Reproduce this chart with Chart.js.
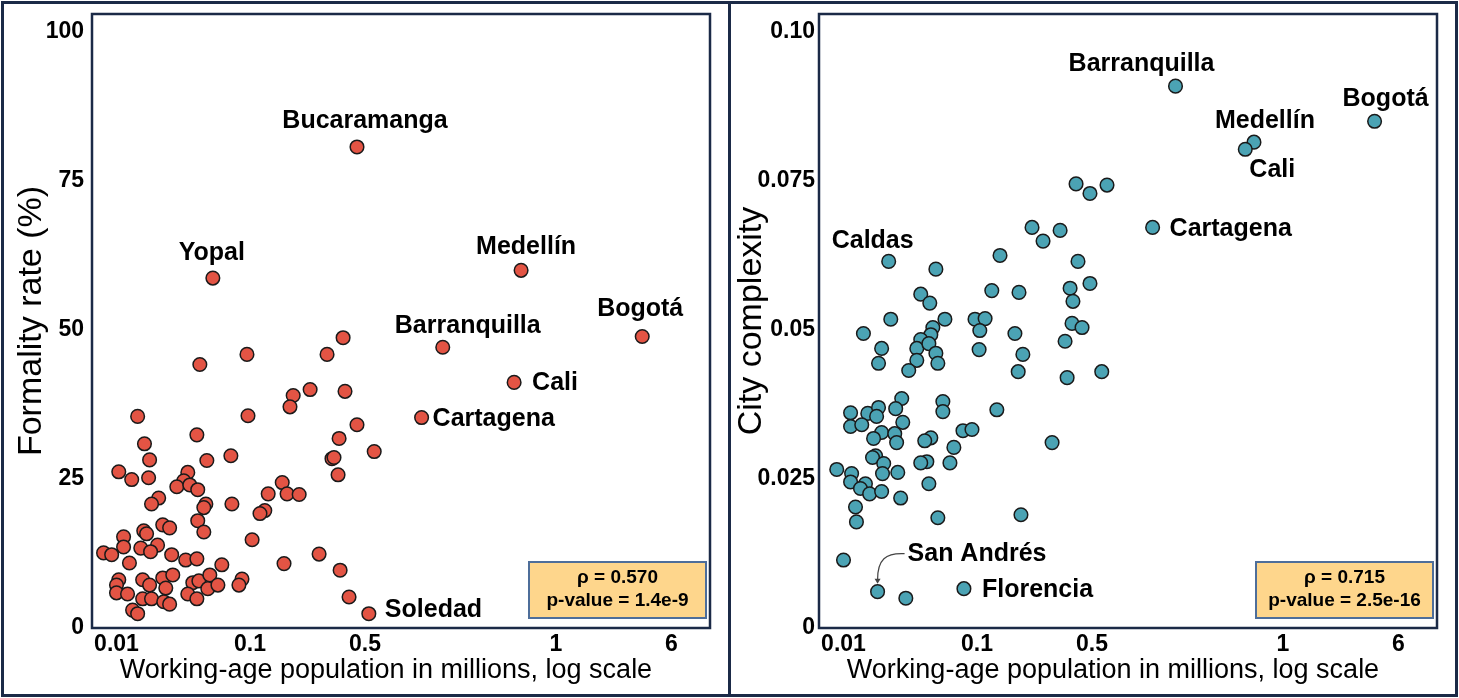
<!DOCTYPE html>
<html>
<head>
<meta charset="utf-8">
<script src="https://cdn.jsdelivr.net/npm/chart.js@4.4.1/dist/chart.umd.min.js"></script>
<style>
  body { margin: 0; background: #fff; }
  .panel { position: absolute; top: 1px; height: 696px; width: 730px; border: 3px solid #1b2a47; box-sizing: border-box; }
  #p1 { left: 1px; }
  #p2 { left: 728px; }
  canvas { display: block; }
</style>
</head>
<body>
<div class="panel" id="p1"><canvas id="c1" width="724" height="690"></canvas></div>
<div class="panel" id="p2"><canvas id="c2" width="724" height="690"></canvas></div>
<script>
// x axis: working-age population (millions), the tick labels are not evenly spaced
const xTickValues = [0.01, 0.1, 0.5, 1, 6];
const xTickLabels = ['0.01', '0.1', '0.5', '1', '6'];

// left panel: formality rate (%), labelled cities first
const formalityNames = ['Bucaramanga', 'Yopal', 'Medellín', 'Bogotá', 'Barranquilla', 'Cali', 'Cartagena', 'Soledad'];
const formalityPop = [
  0.447, 0.0527, 0.881, 3.81, 0.663, 0.859, 0.614, 0.507,
  0.368, 0.294, 0.0949, 0.0421, 0.232, 0.378, 0.183, 0.175, 0.0144, 0.0966,
  0.447, 0.0400, 0.348, 0.0162, 0.517, 0.0177, 0.0475, 0.315, 0.324, 0.0719,
  0.0104, 0.0130, 0.0174, 0.0342, 0.0319, 0.0283, 0.0354, 0.0406, 0.343, 0.157,
  0.129, 0.168, 0.199, 0.0207, 0.0183, 0.0467, 0.0451, 0.0732, 0.123, 0.115,
  0.0406, 0.0451, 0.0222, 0.0250, 0.0113, 0.0160, 0.0168, 0.0203, 0.0113, 0.0152,
  0.0180, 0.0080, 0.0092, 0.0125, 0.0259, 0.0330, 0.0400, 0.0615, 0.103, 0.161,
  0.263, 0.353, 0.400, 0.0104, 0.0100, 0.0100, 0.0121, 0.0157, 0.0177, 0.0222,
  0.0264, 0.0234, 0.0157, 0.0183, 0.0226, 0.0250, 0.0132, 0.0144, 0.0373, 0.0414,
  0.0500, 0.0483, 0.0575, 0.0342, 0.0400, 0.0871, 0.0826
];
const formalityRate = [
  80.7, 58.7, 60.0, 48.9, 47.1, 41.2, 35.3, 2.4,
  48.7, 45.9, 45.9, 44.2, 40.0, 39.7, 39.0, 37.1, 35.5, 35.6,
  34.1, 32.4, 31.8, 30.9, 29.6, 28.2, 28.1, 28.4, 28.6, 28.9,
  26.2, 24.9, 25.2, 26.1, 24.7, 23.7, 24.0, 23.2, 25.7, 24.4,
  22.5, 22.5, 22.4, 21.8, 20.8, 20.8, 20.2, 20.8, 19.7, 19.2,
  18.0, 16.1, 17.3, 16.8, 15.3, 16.3, 15.8, 13.9, 13.6, 13.4,
  12.8, 12.6, 12.3, 10.9, 12.3, 11.4, 11.6, 10.6, 14.8, 10.8,
  12.4, 9.7, 5.2, 8.1, 7.2, 5.9, 5.7, 8.1, 7.2, 8.4,
  8.9, 6.7, 4.9, 4.9, 4.4, 4.0, 3.0, 2.4, 7.6, 7.9,
  8.9, 6.6, 7.2, 5.7, 4.9, 8.2, 7.2
];
const formalityYTicks = [0, 25, 50, 75, 100];
const formalityYLabels = ['0', '25', '50', '75', '100'];
const formalityStats = ['ρ = 0.570', 'p-value = 1.4e-9'];

// right panel: city complexity, labelled cities first
const complexityNames = ['Barranquilla', 'Medellín', 'Cali', 'Bogotá', 'Cartagena', 'Caldas', 'San Andrés', 'Florencia'];
const complexityPop = [
  0.677, 0.90, 0.872, 4.14, 0.623, 0.0218, 0.0180, 0.0798,
  0.400, 0.486, 0.528, 0.216, 0.252, 0.320, 0.138, 0.411, 0.0492, 0.0379,
  0.0443, 0.123, 0.180, 0.368, 0.383, 0.486, 0.0226, 0.0575, 0.0966, 0.112,
  0.104, 0.378, 0.435, 0.0141, 0.170, 0.0467, 0.0451, 0.0379, 0.0354, 0.0436,
  0.0492, 0.0509, 0.0354, 0.0308, 0.0193, 0.0183, 0.103, 0.190, 0.343, 0.178,
  0.353, 0.518, 0.0273, 0.0555, 0.0555, 0.132, 0.0113, 0.0152, 0.0183, 0.0177,
  0.0246, 0.0278, 0.0113, 0.0137, 0.0193, 0.0168, 0.0242, 0.0250, 0.0451, 0.0406,
  0.0785, 0.0917, 0.286, 0.0671, 0.0174, 0.0165, 0.0200, 0.0196, 0.0255, 0.0421,
  0.0379, 0.0627, 0.0089, 0.0115, 0.0113, 0.0146, 0.0134, 0.0157, 0.0193, 0.0436,
  0.0268, 0.0123, 0.0125, 0.0509, 0.185, 0.0100, 0.0293
];
const complexityValue = [
  0.0909, 0.0815, 0.0803, 0.0850, 0.0672, 0.0615, 0.0061, 0.0066,
  0.0745, 0.0729, 0.0743, 0.0672, 0.0649, 0.0667, 0.0625, 0.0615, 0.0602, 0.0560,
  0.0545, 0.0566, 0.0563, 0.0570, 0.0548, 0.0578, 0.0518, 0.0518, 0.0518, 0.0519,
  0.0499, 0.0511, 0.0504, 0.0494, 0.0494, 0.0504, 0.0492, 0.0484, 0.0469, 0.0477,
  0.0461, 0.0444, 0.0449, 0.0432, 0.0469, 0.0444, 0.0467, 0.0459, 0.0481, 0.0430,
  0.0420, 0.0430, 0.0385, 0.0380, 0.0363, 0.0366, 0.0361, 0.0360, 0.0370, 0.0355,
  0.0368, 0.0345, 0.0338, 0.0341, 0.0328, 0.0318, 0.0326, 0.0311, 0.0319, 0.0314,
  0.0331, 0.0333, 0.0311, 0.0303, 0.0289, 0.0286, 0.0276, 0.0259, 0.0261, 0.0279,
  0.0277, 0.0277, 0.0266, 0.0259, 0.0245, 0.0242, 0.0234, 0.0225, 0.0229, 0.0242,
  0.0218, 0.0203, 0.0178, 0.0185, 0.0190, 0.0114, 0.0050
];
const complexityYTicks = [0, 0.025, 0.05, 0.075, 0.1];
const complexityYLabels = ['0', '0.025', '0.05', '0.075', '0.10'];
const complexityStats = ['ρ = 0.715', 'p-value = 2.5e-16'];

// layout: where each x tick sits along the axis (axis runs 0..618)
const xSlots = [24.5, 158, 273, 464, 579.5];
const X_MAX = 618;

const FONT = "'Liberation Sans', Arial, sans-serif";
const NAVY = '#1b2a47';

// piecewise log mapping between the labelled ticks
function toAxis(v) {
  const lv = Math.log10(v);
  let i = 0;
  while (i < xTickValues.length - 2 && lv > Math.log10(xTickValues[i + 1])) i++;
  const a = Math.log10(xTickValues[i]);
  const b = Math.log10(xTickValues[i + 1]);
  return xSlots[i] + (lv - a) / (b - a) * (xSlots[i + 1] - xSlots[i]);
}

const annotations = {
  id: 'annotations',
  beforeDatasetsDraw(chart) {
    const { ctx, chartArea: a } = chart;
    ctx.save();
    ctx.strokeStyle = NAVY;
    ctx.lineWidth = 2.5;
    ctx.strokeRect(a.left, a.top, a.right - a.left, a.bottom - a.top);
    ctx.restore();
  },
  afterDatasetsDraw(chart, args, opts) {
    const { ctx, chartArea: a } = chart;
    const meta = chart.getDatasetMeta(0);
    ctx.save();
    ctx.fillStyle = '#000';
    ctx.font = 'bold 25px ' + FONT;
    ctx.textBaseline = 'middle';
    opts.names.forEach((name, i) => {
      const pt = meta.data[i];
      const off = opts.offsets[name];
      ctx.textAlign = off.align;
      ctx.fillText(name, pt.x + off.dx, pt.y + off.dy);
      if (off.arrow) {
        // curved pointer from the label down to its point
        ctx.strokeStyle = '#444';
        ctx.lineWidth = 1.2;
        ctx.beginPath();
        ctx.moveTo(pt.x + off.dx - 3, pt.y + off.dy);
        ctx.bezierCurveTo(pt.x + 8, pt.y + off.dy - 1, pt.x, pt.y + off.dy + 6, pt.x, pt.y - 12);
        ctx.stroke();
        ctx.fillStyle = '#444';
        ctx.beginPath();
        ctx.moveTo(pt.x - 3, pt.y - 13);
        ctx.lineTo(pt.x + 3, pt.y - 13);
        ctx.lineTo(pt.x, pt.y - 8);
        ctx.closePath();
        ctx.fill();
        ctx.fillStyle = '#000';
      }
    });
    // correlation box
    const w = 177, h = 56;
    const bx = a.right - 4 - w, by = a.bottom - 10 - h;
    ctx.fillStyle = '#fed68c';
    ctx.fillRect(bx, by, w, h);
    ctx.strokeStyle = '#4e6e9a';
    ctx.lineWidth = 2;
    ctx.strokeRect(bx, by, w, h);
    ctx.fillStyle = '#000';
    ctx.font = 'bold 19px ' + FONT;
    ctx.textAlign = 'center';
    ctx.fillText(opts.stats[0], bx + w / 2, by + 16);
    ctx.fillText(opts.stats[1], bx + w / 2, by + 39);
    ctx.restore();
  }
};

function makeChart(id, pops, values, names, offsets, yTicks, yLabels, yMax, yTitle, titlePad, tickPad, color, stats) {
  const points = pops.map((p, i) => ({ x: toAxis(p), y: values[i] }));
  return new Chart(document.getElementById(id), {
    type: 'scatter',
    data: {
      datasets: [{
        data: points,
        backgroundColor: color,
        borderColor: '#1a1a1a',
        borderWidth: 1.5,
        pointRadius: 6.8,
        pointHoverRadius: 6.8
      }]
    },
    plugins: [annotations],
    options: {
      responsive: false,
      animation: false,
      devicePixelRatio: 1,
      layout: { padding: { top: 10, right: 18, left: 0, bottom: 0 } },
      plugins: {
        legend: { display: false },
        tooltip: { enabled: false },
        annotations: { names: names, offsets: offsets, stats: stats }
      },
      scales: {
        x: {
          type: 'linear',
          min: 0,
          max: X_MAX,
          grid: { display: false, drawTicks: false },
          border: { display: false },
          afterBuildTicks: s => { s.ticks = xSlots.map(v => ({ value: v })); },
          afterFit: s => { s.height = 66; s.paddingLeft = 0; s.paddingRight = 0; },
          ticks: {
            autoSkip: false,
            maxRotation: 0,
            padding: 3,
            color: '#000',
            font: { family: FONT, size: 23, weight: 'bold' },
            callback: (v, i) => xTickLabels[i]
          },
          title: {
            display: true,
            // trailing spaces nudge the centred title a little to the left, as in the original
            text: 'Working-age population in millions, log scale    ',
            color: '#000',
            font: { family: FONT, size: 27 },
            padding: { top: 0, bottom: 7 }
          }
        },
        y: {
          min: 0,
          max: yMax,
          grid: { display: false, drawTicks: false },
          border: { display: false },
          afterBuildTicks: s => { s.ticks = yTicks.map(v => ({ value: v })); },
          afterFit: s => { s.width = 88; s.paddingTop = 0; s.paddingBottom = 0; },
          ticks: {
            padding: tickPad,
            color: '#000',
            font: { family: FONT, size: 23, weight: 'bold' },
            callback: (v, i) => yLabels[i]
          },
          title: {
            display: true,
            text: yTitle,
            color: '#000',
            font: { family: FONT, size: 34 },
            padding: { top: titlePad, bottom: 0 }
          }
        }
      }
    }
  });
}

makeChart('c1', formalityPop, formalityRate, formalityNames, {
  'Bucaramanga': { dx: 8, dy: -26, align: 'center' },
  'Yopal': { dx: -1, dy: -25, align: 'center' },
  'Medellín': { dx: 5, dy: -23, align: 'center' },
  'Bogotá': { dx: -2, dy: -27, align: 'center' },
  'Barranquilla': { dx: 25, dy: -21, align: 'center' },
  'Cali': { dx: 18, dy: 1, align: 'left' },
  'Cartagena': { dx: 11, dy: 2, align: 'left' },
  'Soledad': { dx: 16, dy: -4, align: 'left' }
}, formalityYTicks, formalityYLabels, 103, 'Formality rate (%)', 7, 8, '#e35444', formalityStats);

makeChart('c2', complexityPop, complexityValue, complexityNames, {
  'Barranquilla': { dx: -34, dy: -22, align: 'center' },
  'Medellín': { dx: 11, dy: -21, align: 'center' },
  'Cali': { dx: 27, dy: 21, align: 'center' },
  'Bogotá': { dx: 11, dy: -22, align: 'center' },
  'Cartagena': { dx: 17, dy: 2, align: 'left' },
  'Caldas': { dx: -16, dy: -20, align: 'center' },
  'San Andrés': { dx: 30, dy: -38, align: 'left', arrow: true },
  'Florencia': { dx: 18, dy: 1, align: 'left' }
}, complexityYTicks, complexityYLabels, 0.103, 'City complexity', 0, 4, '#4ba3b4', complexityStats);
</script>
</body>
</html>
